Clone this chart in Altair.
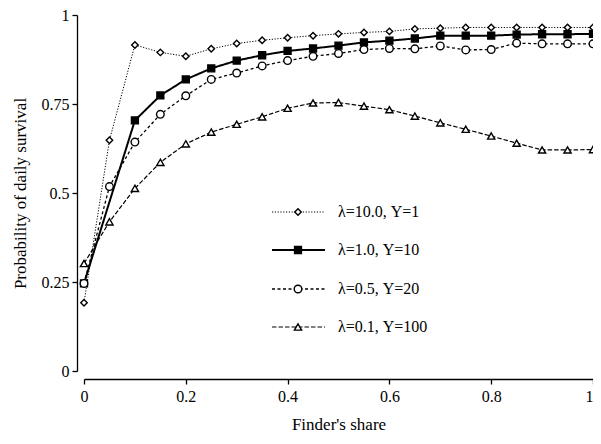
import altair as alt
import pandas as pd

# Finder's share (x) values
share = [0.0, 0.05, 0.10, 0.15, 0.20, 0.25, 0.30, 0.35, 0.40, 0.45, 0.50,
         0.55, 0.60, 0.65, 0.70, 0.75, 0.80, 0.85, 0.90, 0.95, 1.00]

# Probability of daily survival per scenario
surv_l10 = [0.192, 0.648, 0.916, 0.895, 0.884, 0.905, 0.920, 0.929, 0.936, 0.942, 0.947,
            0.951, 0.954, 0.961, 0.963, 0.965, 0.965, 0.965, 0.965, 0.965, 0.965]
surv_l1 = [0.246, None, 0.704, 0.774, 0.819, 0.850, 0.872, 0.887, 0.899, 0.906, 0.914,
           0.923, 0.928, 0.934, 0.942, 0.942, 0.942, 0.945, 0.946, 0.946, 0.947]
surv_l05 = [0.246, 0.518, 0.643, 0.721, 0.773, 0.819, 0.837, 0.857, 0.872, 0.884, 0.892,
            0.903, 0.906, 0.905, 0.913, 0.902, 0.903, 0.921, 0.919, 0.919, 0.919]
surv_l01 = [0.302, 0.419, 0.513, 0.586, 0.638, 0.671, 0.693, 0.714, 0.738, 0.753, 0.754,
            0.744, 0.734, 0.716, 0.697, 0.679, 0.660, 0.640, 0.621, 0.621, 0.622]

labels = ["λ=10.0, Y=1", "λ=1.0, Y=10", "λ=0.5, Y=20", "λ=0.1, Y=100"]
series_values = [surv_l10, surv_l1, surv_l05, surv_l01]

y_ticks = [0, 0.25, 0.5, 0.75, 1]
x_ticks = [0, 0.2, 0.4, 0.6, 0.8, 1]

FONT = "Liberation Serif"

styles = [
    dict(dash=[1.2, 1.6], width=1.0, shape="diamond", fill="white", size=42),
    dict(dash=[1, 0], width=2.0, shape="square", fill="black", size=48),
    dict(dash=[3, 2.5], width=1.3, shape="circle", fill="white", size=58),
    dict(dash=[4.5, 2], width=1.2, shape="triangle-up", fill="white", size=52),
]

xscale = alt.Scale(domain=[0, 1], nice=False, zero=False)
yscale = alt.Scale(domain=[0, 1], nice=False, zero=False)

xaxis = alt.Axis(values=x_ticks, format=".1~f", title="Finder's share", grid=False,
                 offset=8, tickSize=5, labelPadding=4, titlePadding=12,
                 labelAlign={"expr": "datum.value == 1 ? 'right' : 'center'"},
                 labelFontSize=16, titleFontSize=17, titleFontWeight="normal",
                 labelFont=FONT, titleFont=FONT, domainColor="black", tickColor="black",
                 labelColor="black", titleColor="black", domainWidth=1.3, tickWidth=1.3)
yaxis = alt.Axis(values=y_ticks, format=".2~f", title="Probability of daily survival",
                 grid=False, offset=7, tickSize=5, labelPadding=3, titlePadding=12,
                 labelFontSize=16, titleFontSize=17, titleFontWeight="normal",
                 labelFont=FONT, titleFont=FONT, domainColor="black", tickColor="black",
                 labelColor="black", titleColor="black", domainWidth=1.3, tickWidth=1.3)

layers = []
for i, (lab, vals) in enumerate(zip(labels, series_values)):
    st = styles[i]
    df = pd.DataFrame({"share": share, "surv": vals, "series": lab}).dropna()
    base = alt.Chart(df).encode(
        x=alt.X("share:Q", scale=xscale, axis=xaxis),
        y=alt.Y("surv:Q", scale=yscale, axis=yaxis),
    )
    line = base.mark_line(color="black", strokeWidth=st["width"], strokeDash=st["dash"])
    pts = base.mark_point(shape=st["shape"], filled=True, fill=st["fill"], stroke="black",
                          strokeWidth=1.4, size=st["size"], opacity=1)
    layers += [line, pts]

# manual legend (line + marker + label)
leg_y = [197, 235, 274, 312]
for i, lab in enumerate(labels):
    st = styles[i]
    ldf = pd.DataFrame({"label": [lab]})
    lb = alt.Chart(ldf)
    layers.append(lb.mark_rule(color="black", strokeWidth=st["width"], strokeDash=st["dash"]).encode(
        x=alt.value(188), x2=alt.value(241), y=alt.value(leg_y[i])))
    layers.append(lb.mark_point(shape=st["shape"], filled=True, fill=st["fill"], stroke="black",
                                strokeWidth=1.4, size=st["size"], opacity=1).encode(
        x=alt.value(214), y=alt.value(leg_y[i])))
    layers.append(lb.mark_text(align="left", baseline="middle", font=FONT, fontSize=16,
                               color="black").encode(
        x=alt.value(254), y=alt.value(leg_y[i]), text="label:N"))

chart = alt.layer(*layers).properties(
    width=509, height=356,
    autosize=alt.AutoSizeParams(type="none"),
    padding={"left": 76, "top": 7, "right": 0, "bottom": 64},
).configure_view(stroke=None)

chart.save("out.html", embed_options={"renderer": "svg", "actions": False})
